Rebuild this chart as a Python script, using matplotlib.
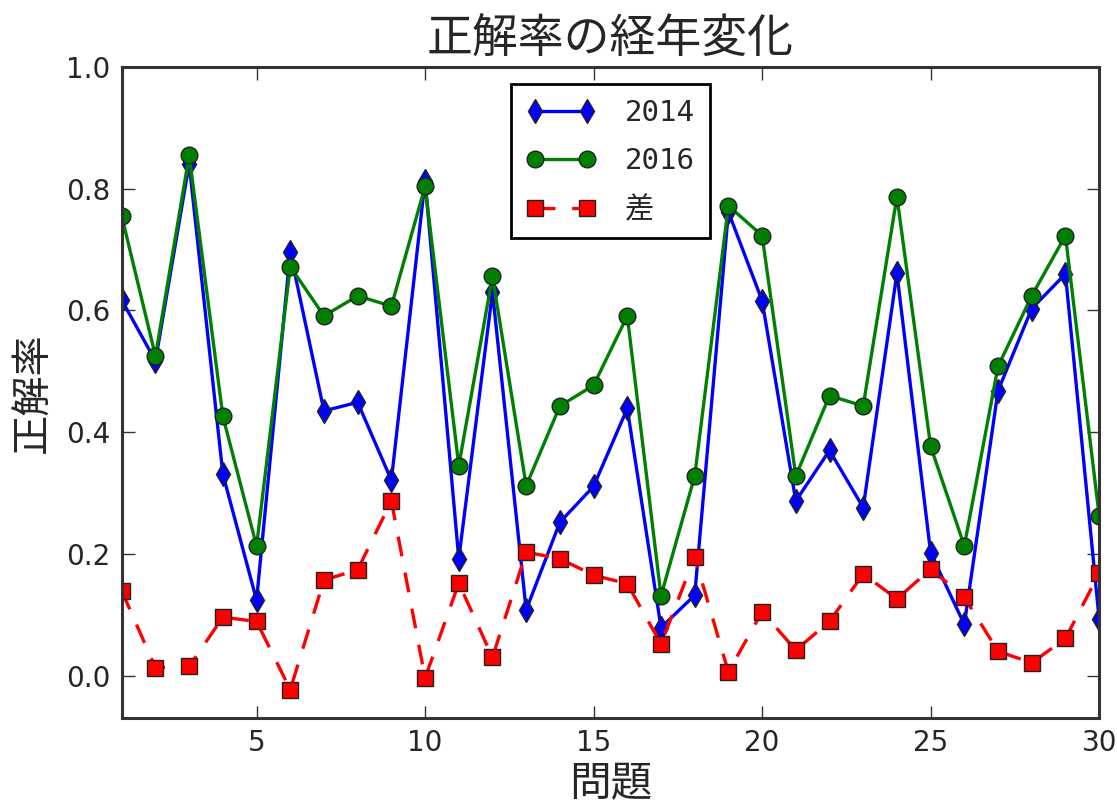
import matplotlib
matplotlib.use("Agg")
import matplotlib.pyplot as plt

questions = list(range(1, 31))
rate_2014 = [0.617, 0.517, 0.841, 0.331, 0.124, 0.696, 0.435, 0.449, 0.321, 0.813,
             0.192, 0.630, 0.108, 0.252, 0.311, 0.439, 0.079, 0.132, 0.762, 0.616,
             0.287, 0.370, 0.276, 0.661, 0.202, 0.084, 0.468, 0.603, 0.660, 0.093]
rate_2016 = [0.755, 0.525, 0.855, 0.426, 0.213, 0.672, 0.591, 0.624, 0.607, 0.804,
             0.345, 0.656, 0.312, 0.443, 0.477, 0.591, 0.131, 0.328, 0.772, 0.723,
             0.328, 0.460, 0.443, 0.787, 0.377, 0.213, 0.508, 0.624, 0.723, 0.263]
rate_diff = [0.139, 0.013, 0.015, 0.096, 0.089, -0.023, 0.157, 0.174, 0.287, -0.004,
             0.152, 0.030, 0.203, 0.192, 0.165, 0.151, 0.052, 0.195, 0.006, 0.105,
             0.042, 0.089, 0.167, 0.126, 0.175, 0.129, 0.040, 0.021, 0.061, 0.168]
series_labels = ["2014", "2016", "差"]
title = "正解率の経年変化"
xlabel = "問題"
ylabel = "正解率"
xticks = [5, 10, 15, 20, 25, 30]
yticks = [0.0, 0.2, 0.4, 0.6, 0.8, 1.0]

cjk = ["Noto Sans CJK JP", "DejaVu Sans"]
txt = "#262626"

fig = plt.figure(figsize=(11.17, 8.07), dpi=100, facecolor="white")
ax = fig.add_axes([0.109, 0.110, 0.875, 0.807])

ms = 12
ax.plot(questions, rate_2014, color="blue", marker="d", ms=ms, lw=2.4,
        mec="#222222", mew=1, label=series_labels[0])
ax.plot(questions, rate_2016, color="green", marker="o", ms=ms, lw=2.4,
        mec="#222222", mew=1, label=series_labels[1])
ax.plot(questions, rate_diff, color="red", marker="s", ms=ms, lw=2.4, ls="--",
        dashes=(6, 5), mec="#222222", mew=1, label=series_labels[2])

ax.set_xlim(1, 30)
ax.set_ylim(-0.07, 1.0)
ax.set_xticks(xticks)
ax.set_yticks(yticks)
ax.set_yticklabels([f"{v:.1f}" for v in yticks])
ax.tick_params(direction="in", length=9, width=1, top=True, right=True,
               labelsize=20, colors="#333333", labelcolor=txt, pad=8)
for s in ax.spines.values():
    s.set_linewidth(2.2)
    s.set_color("#333333")

ax.set_title(title, family=cjk, fontsize=33, color=txt, pad=10)
ax.set_xlabel(xlabel, family=cjk, fontsize=30, color=txt, labelpad=5)
ax.set_ylabel(ylabel, family=cjk, fontsize=29, color=txt, labelpad=10)

leg = ax.legend(loc="upper center", numpoints=2, fancybox=False, framealpha=1,
                prop={"family": ["DejaVu Sans Mono", "Noto Sans CJK JP"], "size": 21},
                borderaxespad=0.6, handlelength=2.4, labelspacing=0.7, handletextpad=1.0,
                borderpad=0.5)
leg.get_frame().set_edgecolor("black")
leg.get_frame().set_linewidth(2)
for t in leg.get_texts():
    t.set_color(txt)

fig.savefig("out.png", dpi=100, facecolor="white")
